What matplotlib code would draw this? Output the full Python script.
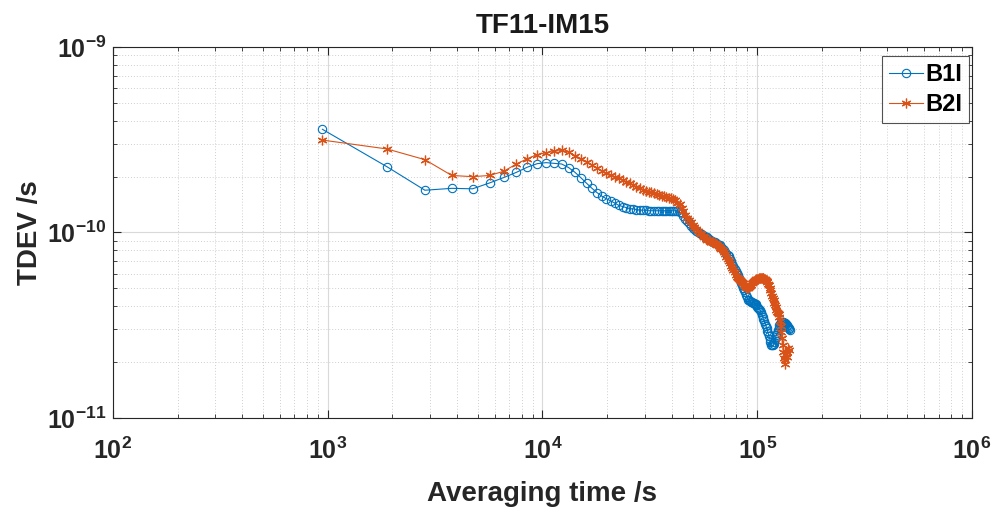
import numpy as np
import matplotlib
matplotlib.use("Agg")
import matplotlib.pyplot as plt
from matplotlib.ticker import LogLocator, NullFormatter

# TDEV of TF11-IM15, B1I and B2I
tau0 = 945.0  # basic sampling interval, s

b1i_tdev = np.array([
    3.60, 2.26, 1.69, 1.73, 1.72, 1.85, 1.98, 2.11, 2.25, 2.35,
    2.38, 2.36, 2.34, 2.24, 2.11, 1.97, 1.84, 1.73, 1.64, 1.57,
    1.52, 1.48, 1.44, 1.40, 1.38, 1.36, 1.345, 1.34, 1.33, 1.32,
    1.32, 1.32, 1.31, 1.31, 1.31, 1.31, 1.31, 1.31, 1.31, 1.31,
    1.31, 1.31, 1.31, 1.31, 1.31, 1.29, 1.27, 1.22, 1.18, 1.15,
    1.12, 1.09, 1.06, 1.04, 1.025, 1.01, 0.995, 0.983, 0.972, 0.961,
    0.951, 0.940, 0.926, 0.910, 0.901, 0.893, 0.884, 0.876, 0.868, 0.860,
    0.851, 0.834, 0.817, 0.801, 0.785, 0.770, 0.758, 0.748, 0.724, 0.698,
    0.676, 0.656, 0.638, 0.621, 0.603, 0.587, 0.571, 0.554, 0.537, 0.520,
    0.505, 0.489, 0.475, 0.460, 0.447, 0.435, 0.430, 0.426, 0.423, 0.420,
    0.418, 0.416, 0.414, 0.411, 0.405, 0.399, 0.394, 0.388, 0.382, 0.371,
    0.361, 0.352, 0.342, 0.332, 0.323, 0.315, 0.307, 0.296, 0.286, 0.276,
    0.267, 0.258, 0.249, 0.246, 0.246, 0.251, 0.258, 0.267, 0.273, 0.280,
    0.289, 0.298, 0.307, 0.317, 0.323, 0.327, 0.329, 0.330, 0.329, 0.328,
    0.327, 0.325, 0.324, 0.323, 0.319, 0.314, 0.309, 0.305, 0.301, 0.298,
]) * 1e-10

b2i_tdev = np.array([
    3.15, 2.82, 2.47, 2.03, 2.00, 2.03, 2.14, 2.34, 2.50, 2.63,
    2.69, 2.74, 2.77, 2.71, 2.60, 2.50, 2.41, 2.31, 2.23, 2.15,
    2.09, 2.04, 2.00, 1.96, 1.92, 1.88, 1.84, 1.80, 1.77, 1.73,
    1.70, 1.68, 1.66, 1.645, 1.63, 1.61, 1.60, 1.58, 1.57, 1.55,
    1.54, 1.53, 1.52, 1.49, 1.45, 1.42, 1.36, 1.30, 1.25, 1.20,
    1.17, 1.135, 1.10, 1.07, 1.04, 1.02, 0.997, 0.979, 0.961, 0.943,
    0.927, 0.913, 0.906, 0.899, 0.891, 0.884, 0.878, 0.871, 0.861, 0.845,
    0.830, 0.816, 0.802, 0.784, 0.763, 0.741, 0.721, 0.701, 0.682, 0.662,
    0.645, 0.626, 0.609, 0.592, 0.576, 0.569, 0.561, 0.554, 0.547, 0.540,
    0.534, 0.524, 0.517, 0.510, 0.505, 0.502, 0.508, 0.516, 0.524, 0.532,
    0.540, 0.547, 0.553, 0.557, 0.560, 0.562, 0.563, 0.565, 0.565, 0.566,
    0.566, 0.566, 0.566, 0.562, 0.558, 0.552, 0.546, 0.540, 0.530, 0.518,
    0.503, 0.487, 0.470, 0.457, 0.443, 0.433, 0.418, 0.407, 0.395, 0.384,
    0.375, 0.368, 0.364, 0.350, 0.333, 0.313, 0.291, 0.270, 0.247, 0.227,
    0.211, 0.196, 0.205, 0.221, 0.213, 0.227, 0.238, 0.233,
]) * 1e-10

b1i_tau = tau0 * np.arange(1, len(b1i_tdev) + 1)
b2i_tau = tau0 * np.arange(1, len(b2i_tdev) + 1)

series_labels = ["B1I", "B2I"]
title_text = "TF11-IM15"

# MATLAB-ish look
plt.rcParams["font.family"] = ["Liberation Sans", "DejaVu Sans"]
plt.rcParams["font.weight"] = "bold"
plt.rcParams["axes.labelweight"] = "bold"
plt.rcParams["axes.titleweight"] = "bold"
plt.rcParams["axes.unicode_minus"] = False

blue = "#0072BD"
orange = "#D95319"

fig = plt.figure(figsize=(9.97, 5.12), dpi=100)
ax = fig.add_axes([0.1133, 0.1836, 0.8616, 0.7246])

ax.loglog(b1i_tau, b1i_tdev, color=blue, lw=0.8, marker="o", ms=6,
          mfc="none", mew=0.8, label=series_labels[0])
# asterisk marker like MATLAB's '*'
ax.loglog(b2i_tau, b2i_tdev, color=orange, lw=0.8, marker=(6, 2, 0), ms=7,
          mew=0.9, label=series_labels[1])

ax.set_xlim(1e2, 1e6)
ax.set_ylim(1e-11, 1e-9)
ax.xaxis.set_major_locator(LogLocator(base=10, numticks=10))
ax.xaxis.set_minor_locator(LogLocator(base=10, subs=np.arange(2, 10), numticks=20))
ax.yaxis.set_minor_locator(LogLocator(base=10, subs=np.arange(2, 10), numticks=20))
ax.xaxis.set_minor_formatter(NullFormatter())
ax.yaxis.set_minor_formatter(NullFormatter())

ax.grid(True, which="major", color="#d9d9d9", lw=0.8, ls="-")
ax.grid(True, which="minor", color="#cfcfcf", lw=0.7, ls=(0, (1, 2)))
ax.set_axisbelow(True)

ax.tick_params(which="both", direction="in", top=True, right=True, colors="#262626")
ax.tick_params(which="major", length=6, labelsize=18)
ax.tick_params(axis="x", which="major", pad=14)
ax.tick_params(axis="y", which="major", pad=5)
ax.tick_params(which="minor", length=3)
for s in ax.spines.values():
    s.set_color("#262626")
    s.set_linewidth(0.8)

ax.set_xlabel("Averaging time /s", fontsize=20, labelpad=12, color="#262626")
ax.set_ylabel("TDEV /s", fontsize=20, color="#262626")
ax.yaxis.set_label_coords(-0.0815, 0.5)
ax.set_title(title_text, fontsize=20, pad=10, color="#1a1a1a")

leg = ax.legend(loc="upper right", bbox_to_anchor=(0.9965, 0.9757),
                fontsize=17, frameon=True, fancybox=False,
                edgecolor="#262626", handlelength=1.4, handletextpad=0.1,
                borderpad=0.3, labelspacing=0.3, borderaxespad=0.0)
leg.get_frame().set_linewidth(0.8)
for t in leg.get_texts():
    t.set_fontweight("bold")

fig.savefig("out.png", dpi=100, facecolor="white")
